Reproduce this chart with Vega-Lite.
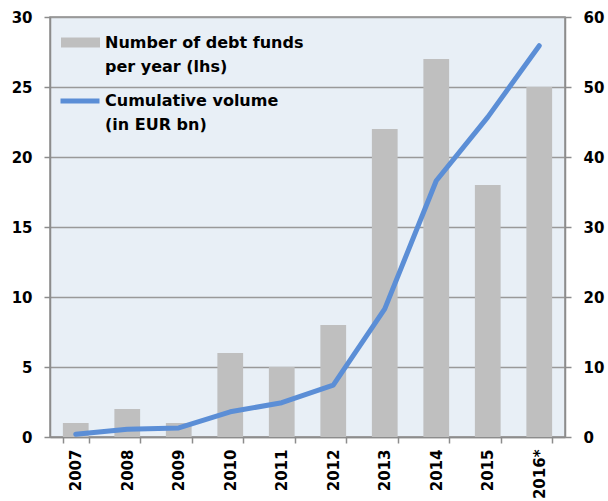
{
  "$schema": "https://vega.github.io/schema/vega-lite/v6.json",
  "width": 515,
  "height": 420,
  "autosize": {"type": "none"},
  "padding": {"left": 50, "top": 17, "right": 43, "bottom": 64},
  "background": "white",
  "config": {
    "view": {"fill": "#E8EFF6", "stroke": "#8C8C8C", "strokeWidth": 1.5},
    "font": "DejaVu Sans",
    "axis": {
      "title": null,
      "domainColor": "#8C8C8C",
      "domainWidth": 1.5,
      "tickColor": "#8C8C8C",
      "tickWidth": 1.5,
      "tickSize": 6,
      "labelFont": "DejaVu Sans",
      "labelFontSize": 15,
      "labelFontWeight": "bold",
      "labelColor": "black"
    },
    "legend": {
      "orient": "none",
      "title": null,
      "padding": 0,
      "labelFont": "DejaVu Sans",
      "labelFontSize": 16,
      "labelFontWeight": "bold",
      "labelColor": "black",
      "labelLimit": 400,
      "labelOffset": 5,
      "symbolSize": 1521
    }
  },
  "data": {
    "values": [
      {"year": "2007", "funds": 1, "volume": 0.4},
      {"year": "2008", "funds": 2, "volume": 1.1},
      {"year": "2009", "funds": 1, "volume": 1.3},
      {"year": "2010", "funds": 6, "volume": 3.6},
      {"year": "2011", "funds": 5, "volume": 4.9},
      {"year": "2012", "funds": 8, "volume": 7.4},
      {"year": "2013", "funds": 22, "volume": 18.3},
      {"year": "2014", "funds": 27, "volume": 36.6},
      {"year": "2015", "funds": 18, "volume": 45.7},
      {"year": "2016*", "funds": 25, "volume": 55.9}
    ]
  },
  "encoding": {
    "x": {
      "field": "year",
      "type": "ordinal",
      "sort": null,
      "scale": {"paddingInner": 0.5, "paddingOuter": 0.25},
      "axis": {"labelAngle": -90, "tickBand": "extent", "labelPadding": 6, "grid": false}
    }
  },
  "layer": [
    {
      "mark": {"type": "bar"},
      "encoding": {
        "y": {
          "field": "funds",
          "type": "quantitative",
          "scale": {"domain": [0, 30]},
          "axis": {
            "orient": "left",
            "values": [0, 5, 10, 15, 20, 25, 30],
            "grid": true,
            "gridColor": "#999999",
            "gridWidth": 1.5,
            "labelPadding": 12
          }
        },
        "fill": {
          "datum": "Number of debt funds|per year (lhs)",
          "scale": {"range": ["#BFBFBF"]},
          "legend": {
            "legendX": 11,
            "legendY": 6,
            "symbolType": "M-1,-0.26H1V0.26H-1Z",
            "symbolStrokeWidth": 0,
            "labelExpr": "split(datum.label, '|')",
            "encode": {"labels": {"update": {"lineHeight": {"value": 24}}}}
          }
        }
      }
    },
    {
      "mark": {"type": "line", "strokeWidth": 5, "strokeCap": "round", "strokeJoin": "round"},
      "encoding": {
        "y": {
          "field": "volume",
          "type": "quantitative",
          "scale": {"domain": [0, 60]},
          "axis": {
            "orient": "right",
            "values": [0, 10, 20, 30, 40, 50, 60],
            "grid": false,
            "labelPadding": 12
          }
        },
        "stroke": {
          "datum": "Cumulative volume|(in EUR bn)",
          "scale": {"range": ["#5B8ED6"]},
          "legend": {
            "legendX": 8,
            "legendY": 62,
            "labelOffset": 3,
            "symbolType": "stroke",
            "symbolStrokeWidth": 5,
            "labelExpr": "split(datum.label, '|')",
            "encode": {"labels": {"update": {"lineHeight": {"value": 24}}}}
          }
        }
      }
    }
  ],
  "resolve": {"scale": {"y": "independent"}}
}
